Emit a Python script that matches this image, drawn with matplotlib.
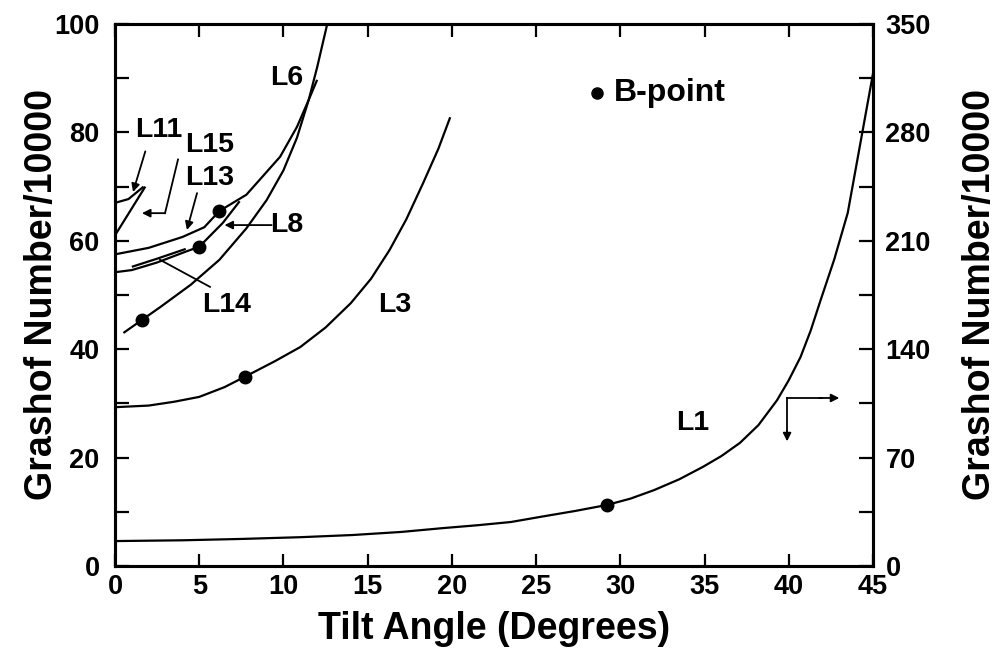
import matplotlib
matplotlib.use("Agg")
import matplotlib.pyplot as plt

plt.rcParams['font.family'] = ['Liberation Sans', 'DejaVu Sans']
plt.rcParams['font.weight'] = 'bold'

# Tilt angle (degrees) and Grashof number / 10000 for each line
l1_x = [0, 4, 7.6, 11, 14.1, 17, 19.5, 21.5, 23.5, 25.4, 27.3, 29.2, 30.6, 32, 33.5,
        34.9, 36, 37.1, 38.2, 39.3, 40, 40.7, 41.3, 41.9, 42.7, 43.5, 44.2, 45]
l1_y = [16.1, 16.6, 17.5, 18.6, 20, 22, 24.5, 26.3, 28.4, 32, 35.5, 39.4, 43.5, 49, 56,
        64, 71, 79.5, 91, 107, 120, 135, 152, 172, 198, 228, 270, 318]  # right axis

l3_x = [0, 2, 3.5, 5, 6.5, 7.7, 9.5, 11, 12.5, 14, 15.2, 16.3, 17.3, 18.3, 19.2, 19.9]
l3_y = [29.3, 29.6, 30.3, 31.2, 33, 34.9, 37.8, 40.4, 44, 48.5, 53, 58.3, 64, 70.7, 77, 82.8]

l6_x = [0.5, 1.6, 2.7, 4.5, 6.2, 7.8, 9, 10, 10.8, 11.5, 12, 12.6]
l6_y = [43, 45.4, 47.8, 51.9, 56.5, 62.3, 67.5, 73, 79, 86, 92, 100]

l13_x = [0, 2, 4, 5.3, 6.2, 7.8, 9.8, 10.8, 11.5, 12]
l13_y = [57.5, 58.7, 60.7, 62.5, 65.5, 68.5, 75.5, 81, 86, 89.7]

l14_x = [0, 1, 2.5, 4.2, 5.0, 6.4, 7.4]
l14_y = [54.2, 54.6, 56, 58, 58.9, 63.3, 67.3]
l14b_x = [1, 2.5, 4.2]
l14b_y = [55.2, 56.7, 58.5]

l11_x = [0, 0.8, 1.7]
l11_y = [67, 67.7, 70]

l15_x = [0, 0.9, 1.8]
l15_y = [61, 65.5, 70]

# B-points on the lines
b_x = [1.6, 5.0, 6.2, 7.7]
b_y = [45.4, 58.9, 65.5, 34.9]
b1_x = [29.2]
b1_y = [39.4]  # right axis

x_ticks = [0, 5, 10, 15, 20, 25, 30, 35, 40, 45]
left_ticks = [0, 10, 20, 30, 40, 50, 60, 70, 80, 90, 100]
right_ticks = [0, 35, 70, 105, 140, 175, 210, 245, 280, 315, 350]

W, H = 1003, 660
fig = plt.figure(figsize=(W / 100, H / 100), dpi=100)
ax = fig.add_axes([115 / W, (H - 566) / H, 758 / W, 542 / H])
ax2 = ax.twinx()

lw = 1.6
for xs, ys in [(l3_x, l3_y), (l6_x, l6_y), (l13_x, l13_y), (l14_x, l14_y),
               (l14b_x, l14b_y), (l11_x, l11_y), (l15_x, l15_y)]:
    ax.plot(xs, ys, color='black', lw=lw, solid_capstyle='butt')
ax.plot(b_x, b_y, 'o', color='black', ms=9, zorder=5)
ax2.plot(l1_x, l1_y, color='black', lw=lw)
ax2.plot(b1_x, b1_y, 'o', color='black', ms=9, zorder=5)

ax.set_xlim(0, 45)
ax.set_ylim(0, 100)
ax2.set_ylim(0, 350)

ax.set_xticks(x_ticks)
ax.set_xticklabels([str(v) for v in x_ticks])
ax.set_yticks(left_ticks)
ax.set_yticklabels([str(v) if v % 20 == 0 else '' for v in left_ticks])
ax2.set_yticks(right_ticks)
ax2.set_yticklabels([str(v) if v % 70 == 0 else '' for v in right_ticks])

tick_font = 19.5
ax.tick_params(axis='x', direction='in', top=True, length=9, width=1.6,
               labelsize=tick_font, pad=6)
ax.tick_params(axis='y', direction='in', right=False, length=10, width=1.6,
               labelsize=tick_font, pad=11)
ax2.tick_params(axis='y', direction='in', length=10, width=1.6,
                labelsize=tick_font, pad=9)
for lab in ax.get_xticklabels() + ax.get_yticklabels() + ax2.get_yticklabels():
    lab.set_fontweight('bold')

for a in (ax, ax2):
    for s in a.spines.values():
        s.set_linewidth(2.2)

lab_font = 27
ax.set_xlabel('Tilt Angle (Degrees)', fontsize=lab_font, fontweight='heavy', labelpad=8)
ax.set_ylabel('Grashof Number/10000', fontsize=lab_font, fontweight='heavy')
ax2.set_ylabel('Grashof Number/10000', fontsize=lab_font, fontweight='heavy')
ax.yaxis.set_label_coords(-0.073, 0.5)
ax2.yaxis.set_label_coords(1.118, 0.5)

# Line labels
tf = 20.5
ax.text(10.2, 90, 'L6', fontsize=tf, fontweight='heavy', ha='center', va='center')
ax.text(2.6, 80.5, 'L11', fontsize=tf, fontweight='heavy', ha='center', va='center')
ax.text(5.6, 77.7, 'L15', fontsize=tf, fontweight='heavy', ha='center', va='center')
ax.text(5.6, 71.6, 'L13', fontsize=tf, fontweight='heavy', ha='center', va='center')
ax.text(10.2, 62.9, 'L8', fontsize=tf, fontweight='heavy', ha='center', va='center')
ax.text(6.6, 48.2, 'L14', fontsize=tf, fontweight='heavy', ha='center', va='center')
ax.text(16.6, 48.2, 'L3', fontsize=tf, fontweight='heavy', ha='center', va='center')
ax.text(34.3, 26.4, 'L1', fontsize=tf, fontweight='heavy', ha='center', va='center')

arrow = dict(arrowstyle='-|>', lw=1.3, color='black', mutation_scale=12,
             shrinkA=0, shrinkB=0)
ax.annotate('', xy=(1.07, 69.0), xytext=(1.8, 76.5), arrowprops=arrow)
ax.plot([3.74, 2.97, 2.97], [75.0, 65.1, 65.1], color='black', lw=1.3)
ax.annotate('', xy=(1.6, 65.1), xytext=(2.97, 65.1), arrowprops=arrow)
ax.annotate('', xy=(4.27, 62.0), xytext=(4.87, 68.8), arrowprops=arrow)
ax.annotate('', xy=(6.5, 62.9), xytext=(9.3, 62.9), arrowprops=arrow)
ax.plot([5.64, 2.67], [51.5, 56.5], color='black', lw=1.3)

# Axis indicator for L1 (right-hand scale)
ax.plot([39.9, 39.9], [31.0, 24.5], color='black', lw=1.3)
ax.annotate('', xy=(39.9, 23.0), xytext=(39.9, 25.0), arrowprops=arrow)
ax.plot([39.9, 42.0], [31.0, 31.0], color='black', lw=1.3)
ax.annotate('', xy=(43.0, 31.0), xytext=(41.8, 31.0), arrowprops=arrow)

# Legend entry
ax.plot([28.6], [87.3], 'o', color='black', ms=8)
ax.text(29.6, 87.3, 'B-point', fontsize=23, fontweight='heavy', ha='left', va='center')

fig.savefig('out.png', dpi=100)
